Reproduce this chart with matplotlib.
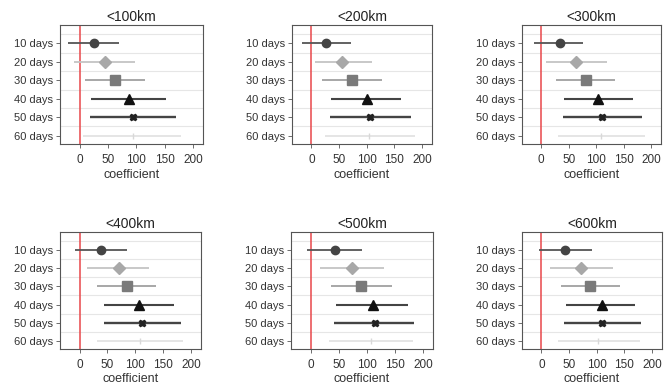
import matplotlib
matplotlib.use("Agg")
import matplotlib.pyplot as plt
import numpy as np

plt.rcParams['font.family'] = ['Liberation Sans', 'DejaVu Sans']

titles = ["<100km", "<200km", "<300km", "<400km", "<500km", "<600km"]
categories = ["10 days", "20 days", "30 days", "40 days", "50 days", "60 days"]

# point estimates per panel (rows: 10..60 days)
coef = [
    [25, 44, 62, 87, 94, 94],
    [27, 55, 74, 100, 106, 104],
    [35, 63, 81, 104, 111, 108],
    [39, 70, 86, 107, 113, 108],
    [43, 73, 90, 111, 115, 107],
    [42, 72, 88, 109, 110, 102],
]
lower = [
    [-21, -11, 9, 19, 18, 6],
    [-17, 6, 20, 35, 34, 25],
    [-13, 8, 27, 41, 40, 30],
    [-8, 14, 31, 44, 44, 31],
    [-6, 17, 36, 46, 42, 33],
    [-5, 15, 35, 44, 41, 30],
]
upper = [
    [69, 97, 116, 153, 170, 179],
    [72, 110, 128, 162, 180, 187],
    [76, 119, 134, 167, 183, 188],
    [85, 124, 138, 169, 183, 186],
    [91, 131, 145, 174, 185, 183],
    [91, 129, 142, 170, 180, 178],
]
xticks = [0, 50, 100, 150, 200]

markers = ['o', 'D', 's', '^', 'X', '|']
msizes = [6, 6.2, 6.5, 6.5, 5, 4]
mcolors = ['#444444', '#a8a8a8', '#7a7a7a', '#111111', '#222222', '#d8d8d8']
lcolors = ['#555555', '#c4c4c4', '#a0a0a0', '#444444', '#444444', '#dedede']
lwidths = [1.3, 1.3, 1.3, 1.5, 1.7, 1.1]

W, H = 669, 388
fig = plt.figure(figsize=(W / 100, H / 100), dpi=100)

boxes = [
    (60, 25, 203, 144), (292, 25, 432, 144), (522, 25, 661, 144),
    (60, 232, 201, 349), (291, 232, 433, 349), (522, 232, 662, 349),
]

ypos = np.arange(1, len(categories) + 1)
for i, (x0, y0, x1, y1) in enumerate(boxes):
    ax = fig.add_axes([x0 / W, 1 - y1 / H, (x1 - x0) / W, (y1 - y0) / H])
    for k in range(len(categories)):
        ax.hlines(k + 0.5, -50, 250, color='#e6e6e6', lw=0.8, zorder=0)
    ax.axvline(0, color='#e8474a', lw=1.1, zorder=1)
    for j in range(len(categories)):
        ax.hlines(ypos[j], lower[i][j], upper[i][j], color=lcolors[j], lw=lwidths[j], zorder=2)
        ax.plot(coef[i][j], ypos[j], marker=markers[j], ms=msizes[j], color=mcolors[j],
                mec=mcolors[j], ls='none', zorder=3)
    ax.set_xlim(-35, 218)
    ax.set_ylim(6.45, 0.0)
    ax.set_yticks(ypos)
    ax.set_yticklabels(categories, fontsize=8, color='#333333')
    ax.set_xticks(xticks)
    ax.set_xticklabels([str(t) for t in xticks], fontsize=8.5, color='#333333')
    ax.tick_params(axis='y', length=3, width=0.6, color='#555555', pad=2)
    ax.tick_params(axis='x', length=3, width=0.6, color='#555555', pad=4)
    for s in ax.spines.values():
        s.set_color('#555555')
        s.set_linewidth(0.8)
    ax.set_title(titles[i], fontsize=10, color='#222222', pad=3)
    ax.set_xlabel("coefficient", fontsize=9, color='#333333', labelpad=2)

fig.savefig("out.png", dpi=100, facecolor='white')
